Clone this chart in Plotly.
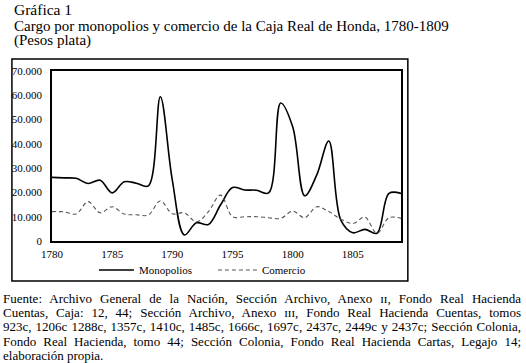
import plotly.graph_objects as go

years = list(range(1780, 1810))
monopolios = [26200, 26000, 25800, 23700, 25000, 19800, 24400, 23800, 22700, 59400,
              25000, 2500, 7500, 6800, 14800, 22000, 21000, 20900, 19800, 56800,
              47000, 18600, 27200, 41200, 8600, 3400, 4800, 3200, 19600, 19600]
comercio = [12100, 12000, 11100, 16200, 11600, 14100, 11100, 10800, 10700, 16500,
            11200, 11600, 7900, 12100, 18900, 10000, 10000, 10000, 9600, 9300,
            12300, 9600, 14100, 12100, 9000, 7200, 9800, 3200, 9600, 9300]
x_ticks = [1780, 1785, 1790, 1795, 1800, 1805]
y_ticks = [0, 10000, 20000, 30000, 40000, 50000, 60000, 70000]

title_lines = ["Gráfica 1",
               "Cargo por monopolios y comercio de la Caja Real de Honda, 1780-1809",
               "(Pesos plata)"]
footer_lines = [
    "Fuente: Archivo General de la Nación, Sección Archivo, Anexo ɪɪ, Fondo Real Hacienda",
    "Cuentas, Caja: 12, 44; Sección Archivo, Anexo ɪɪɪ, Fondo Real Hacienda Cuentas, tomos",
    "923c, 1206c 1288c, 1357c, 1410c, 1485c, 1666c, 1697c, 2437c, 2449c y 2437c; Sección Colonia,",
    "Fondo Real Hacienda, tomo 44; Sección Colonia, Fondo Real Hacienda Cartas, Legajo 14;",
    "elaboración propia.",
]

W, H = 526, 363
L, R, T, B = 44, 401, 71, 241
FONT = "'Liberation Serif', 'Times New Roman', 'DejaVu Serif', serif"


def px(xp):
    return (xp - L) / (R - L)


def py(yp):
    return (B - yp) / (B - T)


fig = go.Figure()
fig.add_trace(go.Scatter(x=years, y=monopolios, mode="lines", name="Monopolios",
                         line=dict(color="black", width=1.6, shape="spline", smoothing=1.0)))
fig.add_trace(go.Scatter(x=years, y=comercio, mode="lines", name="Comercio",
                         line=dict(color="#555555", width=1.1, dash="4px,3px",
                                   shape="spline", smoothing=1.0)))

annotations = []
for txt, yc, fs in zip(title_lines, [10, 26, 41], [15.5, 15, 15]):
    annotations.append(dict(text=txt, x=px(3), y=py(yc), xref="paper", yref="paper",
                            xanchor="left", yanchor="middle", showarrow=False,
                            font=dict(family=FONT, size=fs, color="black")))
for i, txt in enumerate(footer_lines):
    annotations.append(dict(text=txt, x=px(3), y=py(298 + i * 14.4), xref="paper", yref="paper",
                            xanchor="left", yanchor="middle", showarrow=False,
                            font=dict(family=FONT, size=13, color="black")))

fig.update_layout(
    width=W, height=H,
    margin=dict(l=L, r=W - R, t=T, b=H - B, pad=0),
    paper_bgcolor="white", plot_bgcolor="white",
    separators=",.",
    font=dict(family=FONT, size=11, color="black"),
    showlegend=True,
    legend=dict(orientation="h", x=px(92), y=py(270), xanchor="left", yanchor="middle",
                font=dict(family=FONT, size=11), bgcolor="rgba(0,0,0,0)",
                entrywidth=78, entrywidthmode="pixels", tracegroupgap=0),
    annotations=annotations,
    shapes=[dict(type="rect", xref="paper", yref="paper",
                 x0=px(3), x1=px(408), y0=py(281), y1=py(59),
                 line=dict(color="black", width=1.5), fillcolor="rgba(0,0,0,0)", layer="below")],
)
fig.update_xaxes(range=[1780, 1809], tickvals=x_ticks, showgrid=False, zeroline=False,
                 showline=True, linecolor="black", linewidth=1.5, mirror=True,
                 ticks="", ticklabelstandoff=2, tickfont=dict(family=FONT, size=11))
fig.update_yaxes(range=[0, 70000], tickvals=y_ticks, tickformat=",d", showgrid=False,
                 zeroline=False, showline=True, linecolor="black", linewidth=1.5, mirror=True,
                 ticks="", ticklabelstandoff=6, tickfont=dict(family=FONT, size=11))

# justify the first four footer lines to the full text width (page x 3 .. 522),
# left-align the last footer line, and lengthen the legend line samples
post = """
document.body.style.margin='0px';
var gd = document.getElementById('{plot_id}');
function justify() {
  [3, 4, 5, 6, 7].forEach(function(i) {
    var t = gd.querySelector('g.annotation[data-index="' + i + '"] text.annotation-text');
    if (!t) return;
    t.style.wordSpacing = '0px';
    var len = t.getComputedTextLength();
    var n = (t.textContent.match(/ /g) || []).length;
    if (i < 7 && n > 0) t.style.wordSpacing = ((518 - len) / n) + 'px';
    var r = t.getBoundingClientRect();
    var dx = 3 - r.left;
    t.setAttribute('x', parseFloat(t.getAttribute('x') || 0) + dx);
    t.querySelectorAll('tspan[x]').forEach(function(s) {
      s.setAttribute('x', parseFloat(s.getAttribute('x')) + dx);
    });
  });
  gd.querySelectorAll('g.legendlines path').forEach(function(p) {
    p.setAttribute('d', 'M-4,0h39');
  });
}
justify();
setTimeout(justify, 50);
gd.on('plotly_afterplot', justify);
"""

fig.write_html("out.html", post_script=post, config={"displayModeBar": False})
